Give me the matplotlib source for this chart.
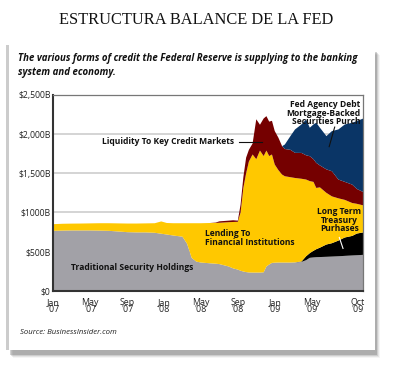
import matplotlib
matplotlib.use("Agg")
import matplotlib.pyplot as plt
from matplotlib.patches import Rectangle
import numpy as np

# ---- data (billions of dollars), months since Jan 2007 ----
months = [0, 1, 2, 3, 4, 5, 6, 7, 8, 9, 10, 11, 11.7, 12.3, 13, 14, 14.5, 15, 15.5,
          16, 17, 17.6, 18, 19, 19.5, 20.0, 20.3, 20.6, 20.9, 21.2, 21.6, 22.0, 22.4,
          22.8, 23.1, 23.4, 23.7, 24.0, 24.4, 24.8, 25.1, 25.7, 26.2, 26.9, 27.4, 27.8,
          28.2, 28.5, 28.9, 29.6, 30.2, 30.9, 31.6, 32.4, 32.9, 33.6]

traditional = [765, 768, 770, 770, 770, 768, 765, 757, 748, 745, 745, 740, 728, 718, 705,
               690, 600, 420, 372, 360, 350, 345, 340, 310, 285, 270, 255, 245, 238, 233,
               232, 232, 232, 235, 310, 335, 355, 358, 360, 360, 360, 360, 362, 368, 390,
               420, 425, 428, 430, 433, 436, 440, 445, 450, 453, 458]

long_term_treasury = [0] * 43 + [5, 50, 60, 85, 102, 120, 157, 171, 200, 235, 250, 277, 287]

lending = [85, 87, 87, 88, 90, 94, 97, 103, 110, 113, 115, 122, 157, 147, 157, 172, 262,
           442, 490, 502, 515, 521, 528, 565, 593, 610, 745, 1068, 1262, 1417, 1508, 1448,
           1558, 1485, 1480, 1385, 1385, 1254, 1180, 1123, 1102, 1090, 1078, 1057, 980,
           920, 880, 783, 770, 660, 598, 540, 480, 420, 380, 345]

liquidity = [0] * 21 + [5, 18, 20, 22, 15, 100, 137, 200, 150, 140, 510, 330, 480, 440,
                        440, 430, 428, 414, 363, 348, 350, 321, 330, 310, 318, 290, 320,
                        280, 300, 321, 240, 230, 235, 190, 170]

agency_mbs = [0] * 39 + [0, 58, 175, 299, 364, 458, 364, 444, 513, 482, 425, 513, 640,
                         734, 791, 867, 940]

yticks = [0, 500, 1000, 1500, 2000, 2500]
ytick_labels = ["$0", "$500B", "$1000B", "$1,500B", "$2,000B", "$2,500B"]
xticks = [0, 4, 8, 12, 16, 20, 24, 28, 33]
xtick_labels = ["Jan\n'07", "May\n'07", "Sep\n'07", "Jan\n'08", "May\n'08",
                "Sep\n'08", "Jan\n'09", "May\n'09", "Oct\n'09"]

colors = ["#a2a1a7", "#000000", "#ffc800", "#750000", "#0a3566"]

W, H = 400, 369
fig = plt.figure(figsize=(W / 100, H / 100), dpi=100)
fig.patch.set_facecolor("white")

def fx(px):
    return px / W

def fy(py):
    return 1 - py / H

# panel shadow and panel
for i, a in enumerate([0.06, 0.10, 0.16, 0.26]):
    off = 3 - i
    fig.patches.append(Rectangle((fx(10 + off), fy(351 + off + 4)), fx(367), (351 - 48) / H,
                                 transform=fig.transFigure, facecolor="#555555",
                                 edgecolor="none", alpha=a, zorder=0))
fig.patches.append(Rectangle((fx(8), fy(350)), fx(367), (350 - 45) / H,
                             transform=fig.transFigure, facecolor="white",
                             edgecolor="none", zorder=1))
fig.patches.append(Rectangle((fx(6), fy(350)), fx(3), (350 - 45) / H,
                             transform=fig.transFigure, facecolor="#cccccc",
                             edgecolor="none", zorder=1))

fig.text(0.49, fy(20), "ESTRUCTURA BALANCE DE LA FED", ha="center", va="center",
         family="Liberation Serif", fontsize=11.8, color="#111111")
fig.text(fx(18), fy(58), "The various forms of credit the Federal Reserve is supplying to the banking",
         ha="left", va="center", family="Open Sans", fontweight="bold", style="italic",
         fontsize=6.95, color="#111111")
fig.text(fx(18), fy(72), "system and economy.", ha="left", va="center", family="Open Sans",
         fontweight="bold", style="italic", fontsize=6.95, color="#111111")
fig.text(fx(20), fy(333), "Source: BusinessInsider.com", ha="left", va="center",
         family="Open Sans", style="italic", fontsize=5.6, color="#222222")

ax = fig.add_axes([fx(53.3), fy(290.7), fx(363.3 - 53.3), (290.7 - 95) / H])
ax.set_zorder(2)
ax.patch.set_facecolor("white")
ax.stackplot(months, traditional, long_term_treasury, lending, liquidity, agency_mbs,
             colors=colors, linewidth=0, zorder=2)
ax.set_xlim(0, 33.6)
ax.set_ylim(0, 2500)
ax.set_yticks(yticks)
ax.set_yticklabels(ytick_labels, family="Open Sans", fontsize=6.2, color="#222222")
ax.set_xticks(xticks)
ax.set_xticklabels(xtick_labels, family="Open Sans", fontsize=6.4, color="#222222",
                   linespacing=0.8)
ax.tick_params(axis="y", length=0, pad=2)
ax.tick_params(axis="x", length=0, pad=5)
ax.grid(axis="y", color="#d4d4d4", linewidth=1.4, zorder=1)
ax.set_axisbelow(True)
for side in ["left", "bottom"]:
    ax.spines[side].set_color("#333333")
    ax.spines[side].set_linewidth(1.5)
for side in ["right", "top"]:
    ax.spines[side].set_color("#777777")
    ax.spines[side].set_linewidth(0.9)

bold = dict(family="Open Sans", fontweight="bold", fontsize=6.1, color="#111111")
ax.text(8.5, 290, "Traditional Security Holdings", ha="center", va="center", **bold)
ax.text(16.4, 670, "Lending To\nFinancial Institutions", ha="left", va="center",
        linespacing=0.95, **bold)
ax.text(19.6, 1900, "Liquidity To Key Credit Markets", ha="right", va="center", **bold)
ax.plot([20.1, 22.6], [1905, 1905], color="#111111", lw=0.8, zorder=3)
ax.text(33.3, 2270, "Fed Agency Debt\nMortgage-Backed\nSecurities Purch", ha="right",
        va="center", linespacing=0.9, **bold)
ax.plot([30.5, 29.9], [2090, 1840], color="#111111", lw=0.8, zorder=3)
ax.text(31.0, 900, "Long Term\nTreasury\nPurhases", ha="center", va="center",
        linespacing=0.95, **bold)
ax.plot([31.0, 31.4], [680, 540], color="white", lw=0.8, zorder=3)

fig.savefig("out.png", dpi=100, facecolor="white")
